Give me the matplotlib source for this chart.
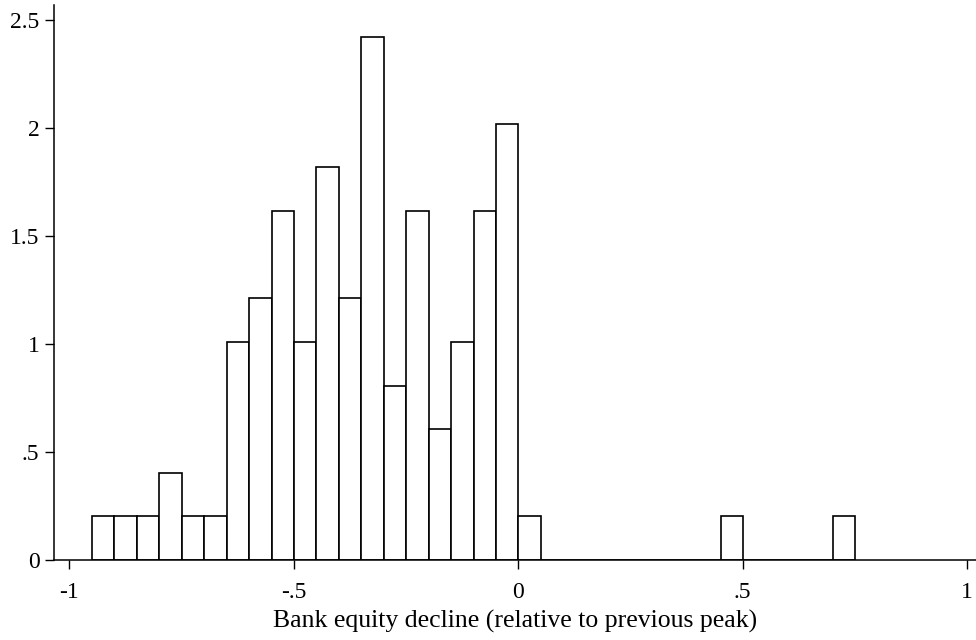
import matplotlib
matplotlib.use("Agg")
import matplotlib.pyplot as plt
import numpy as np

plt.rcParams['font.family'] = ['Liberation Serif', 'DejaVu Serif']

# Histogram (density) of bank equity decline
bin_start = -0.949
bin_width = 0.05
densities = [0.202, 0.202, 0.202, 0.404, 0.202, 0.202,
             1.010, 1.212, 1.616, 1.010, 1.818, 1.212,
             2.424, 0.808, 1.616, 0.606, 1.010, 1.616, 2.020, 0.202,
             0, 0, 0, 0, 0, 0, 0, 0, 0.202,
             0, 0, 0, 0, 0.202]

xticks = [-1, -0.5, 0, 0.5, 1]
xticklabels = ["-1", "-.5", "0", ".5", "1"]
yticks = [0, 0.5, 1, 1.5, 2, 2.5]
yticklabels = ["0", ".5", "1", "1.5", "2", "2.5"]
xlabel = "Bank equity decline (relative to previous peak)"

fig = plt.figure(figsize=(9.76, 6.4), dpi=100)
ax = fig.add_axes([54/976, 80/640, 922/976, 555/640])

lefts = bin_start + bin_width * np.arange(len(densities))
ax.bar(lefts, densities, width=bin_width, align='edge',
       facecolor='white', edgecolor='black', linewidth=1.2)

ax.set_xlim(-1.0334, 1.02)
ax.set_ylim(0, 2.57)
for s in ['top', 'right']:
    ax.spines[s].set_visible(False)
for s in ['left', 'bottom']:
    ax.spines[s].set_linewidth(1.1)

ax.set_xticks(xticks)
ax.set_xticklabels(xticklabels)
ax.set_yticks(yticks)
ax.set_yticklabels(yticklabels)
ax.tick_params(axis='both', length=6.5, width=1.0, labelsize=17)
ax.tick_params(axis='x', pad=9)
ax.tick_params(axis='y', pad=4)
ax.set_xlabel(xlabel, fontsize=18.5, labelpad=5)

fig.savefig("out.png", dpi=100)
